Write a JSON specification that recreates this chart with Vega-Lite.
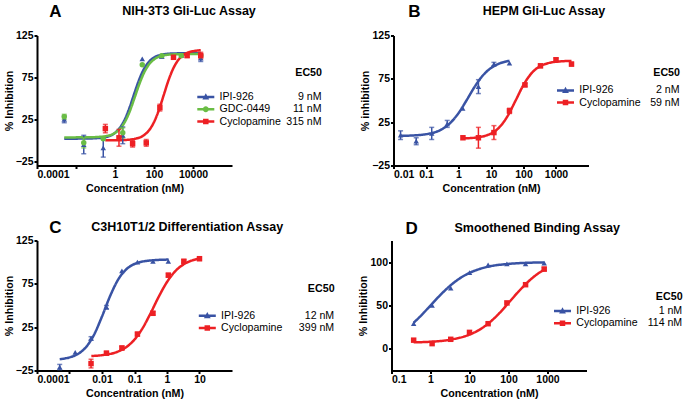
{
"$schema":"https://vega.github.io/schema/vega-lite/v6.json",
"background":"white",
"padding":{"left":3,"top":2.5,"right":0,"bottom":0},
"config":{
 "view":{"stroke":null},
 "axis":{"domainColor":"#000","domainWidth":2,"tickColor":"#000","tickWidth":2,"tickSize":3,"labelFont":"Liberation Sans","labelFontWeight":"bold","labelFontSize":10.5,"labelColor":"#000","titleFont":"Liberation Sans","titleFontWeight":"bold","titleFontSize":10.7,"titleColor":"#000","grid":false,"labelPadding":1},
 "axisX":{"titlePadding":3},
 "axisY":{"titlePadding":1},
 "legend":{"labelFont":"Liberation Sans","labelFontSize":10.6,"labelColor":"#000","titleFont":"Liberation Sans","titleFontSize":10.7,"titleFontWeight":"bold","titleColor":"#000","padding":0,"rowPadding":1.2,"orient":"none"},
 "title":{"font":"Liberation Sans","fontWeight":"bold","color":"#000","anchor":"start"}
},
"datasets":{
 "A_pts":[
  {"s":"IPI-926","c":0.0025,"v":25,"e":4},{"s":"IPI-926","c":0.025,"v":-5,"e":11},{"s":"IPI-926","c":0.25,"v":-9,"e":11},{"s":"IPI-926","c":2.5,"v":6,"e":10},{"s":"IPI-926","c":25,"v":97,"e":0},{"s":"IPI-926","c":250,"v":100,"e":2},{"s":"IPI-926","c":2500,"v":101,"e":0},{"s":"IPI-926","c":25000,"v":98,"e":4},
  {"s":"GDC-0449","c":0.0025,"v":28,"e":3},{"s":"GDC-0449","c":0.025,"v":-3,"e":6},{"s":"GDC-0449","c":0.25,"v":2,"e":0},{"s":"GDC-0449","c":2.5,"v":9,"e":6},{"s":"GDC-0449","c":25,"v":90,"e":0},{"s":"GDC-0449","c":250,"v":101,"e":0},{"s":"GDC-0449","c":2500,"v":101,"e":0},{"s":"GDC-0449","c":25000,"v":101,"e":0},
  {"s":"Cyclopamine","c":0.32,"v":14,"e":5},{"s":"Cyclopamine","c":1.6,"v":3,"e":10},{"s":"Cyclopamine","c":8,"v":-4,"e":4},{"s":"Cyclopamine","c":40,"v":-3,"e":4},{"s":"Cyclopamine","c":200,"v":39,"e":4},{"s":"Cyclopamine","c":1000,"v":99,"e":2},{"s":"Cyclopamine","c":5000,"v":101,"e":2},{"s":"Cyclopamine","c":25000,"v":101,"e":4}
 ],
 "A_fit":[
  {"s":"IPI-926","c":0.0025,"v":2.0},{"s":"IPI-926","c":0.0316,"v":2.1},{"s":"IPI-926","c":0.1,"v":2.5},{"s":"IPI-926","c":0.316,"v":3.8},{"s":"IPI-926","c":1,"v":8.9},{"s":"IPI-926","c":1.778,"v":14.9},{"s":"IPI-926","c":3.162,"v":24.8},{"s":"IPI-926","c":5.623,"v":39.2},{"s":"IPI-926","c":10,"v":56.5},{"s":"IPI-926","c":17.78,"v":73},{"s":"IPI-926","c":31.62,"v":85.7},{"s":"IPI-926","c":56.23,"v":93.9},{"s":"IPI-926","c":100,"v":98.7},{"s":"IPI-926","c":316.2,"v":102.6},{"s":"IPI-926","c":1000,"v":103.6},{"s":"IPI-926","c":25000,"v":104},
  {"s":"GDC-0449","c":0.0025,"v":3.5},{"s":"GDC-0449","c":0.0316,"v":3.6},{"s":"GDC-0449","c":0.1,"v":3.9},{"s":"GDC-0449","c":0.316,"v":4.9},{"s":"GDC-0449","c":1,"v":8.8},{"s":"GDC-0449","c":1.778,"v":13.6},{"s":"GDC-0449","c":3.162,"v":21.7},{"s":"GDC-0449","c":5.623,"v":34.2},{"s":"GDC-0449","c":10,"v":50.5},{"s":"GDC-0449","c":17.78,"v":67.2},{"s":"GDC-0449","c":31.62,"v":81.1},{"s":"GDC-0449","c":56.23,"v":90.7},{"s":"GDC-0449","c":100,"v":96.4},{"s":"GDC-0449","c":316.2,"v":101.3},{"s":"GDC-0449","c":1000,"v":102.5},{"s":"GDC-0449","c":25000,"v":103},
  {"s":"Cyclopamine","c":0.316,"v":0},{"s":"Cyclopamine","c":1,"v":0.1},{"s":"Cyclopamine","c":3.162,"v":0.4},{"s":"Cyclopamine","c":10,"v":1.7},{"s":"Cyclopamine","c":31.62,"v":6.4},{"s":"Cyclopamine","c":56.23,"v":12.1},{"s":"Cyclopamine","c":100,"v":21.7},{"s":"Cyclopamine","c":177.8,"v":36},{"s":"Cyclopamine","c":316.2,"v":54},{"s":"Cyclopamine","c":562.3,"v":72},{"s":"Cyclopamine","c":1000,"v":86.3},{"s":"Cyclopamine","c":1778,"v":95.9},{"s":"Cyclopamine","c":3162,"v":101.6},{"s":"Cyclopamine","c":5623,"v":104.7},{"s":"Cyclopamine","c":10000,"v":106.3},{"s":"Cyclopamine","c":25000,"v":107.4}
 ],
 "A_ec50":[{"s":"IPI-926","ec50":"9 nM"},{"s":"GDC-0449","ec50":"11 nM"},{"s":"Cyclopamine","ec50":"315 nM"}],
 "B_pts":[
  {"s":"IPI-926","c":0.0165,"v":10,"e":5},{"s":"IPI-926","c":0.05,"v":3,"e":4},{"s":"IPI-926","c":0.15,"v":12,"e":7},{"s":"IPI-926","c":0.45,"v":23,"e":4},{"s":"IPI-926","c":1.35,"v":41,"e":0},{"s":"IPI-926","c":4.1,"v":66,"e":8},{"s":"IPI-926","c":12.3,"v":92,"e":2},{"s":"IPI-926","c":37,"v":93,"e":0},
  {"s":"Cyclopamine","c":1.37,"v":7,"e":0},{"s":"Cyclopamine","c":4.1,"v":7,"e":12},{"s":"Cyclopamine","c":12.3,"v":13,"e":8},{"s":"Cyclopamine","c":37,"v":38,"e":3},{"s":"Cyclopamine","c":111,"v":68,"e":2},{"s":"Cyclopamine","c":333,"v":90,"e":2},{"s":"Cyclopamine","c":1000,"v":97,"e":2},{"s":"Cyclopamine","c":3000,"v":92,"e":2}
 ],
 "B_fit":[
  {"s":"IPI-926","c":0.0165,"v":9.2},{"s":"IPI-926","c":0.0316,"v":9.5},{"s":"IPI-926","c":0.1,"v":11.1},{"s":"IPI-926","c":0.316,"v":17.1},{"s":"IPI-926","c":0.562,"v":24.2},{"s":"IPI-926","c":1,"v":35.4},{"s":"IPI-926","c":1.778,"v":50.3},{"s":"IPI-926","c":3.162,"v":66},{"s":"IPI-926","c":5.623,"v":78.9},{"s":"IPI-926","c":10,"v":87.5},{"s":"IPI-926","c":17.78,"v":92.6},{"s":"IPI-926","c":37,"v":95.8},
  {"s":"Cyclopamine","c":1.37,"v":6.3},{"s":"Cyclopamine","c":3.162,"v":7.1},{"s":"Cyclopamine","c":10,"v":11.9},{"s":"Cyclopamine","c":17.78,"v":18.8},{"s":"Cyclopamine","c":31.62,"v":31.4},{"s":"Cyclopamine","c":56.23,"v":49.4},{"s":"Cyclopamine","c":100,"v":68},{"s":"Cyclopamine","c":177.8,"v":81.6},{"s":"Cyclopamine","c":316.2,"v":89.3},{"s":"Cyclopamine","c":562.3,"v":93},{"s":"Cyclopamine","c":1000,"v":94.7},{"s":"Cyclopamine","c":3000,"v":95.7}
 ],
 "B_ec50":[{"s":"IPI-926","ec50":"2 nM"},{"s":"Cyclopamine","ec50":"59 nM"}],
 "C_pts":[
  {"s":"IPI-926","c":0.0005,"v":-21,"e":3},{"s":"IPI-926","c":0.0015,"v":-4,"e":0},{"s":"IPI-926","c":0.0046,"v":12,"e":2},{"s":"IPI-926","c":0.0137,"v":48,"e":2},{"s":"IPI-926","c":0.041,"v":90,"e":0},{"s":"IPI-926","c":0.123,"v":100,"e":0},{"s":"IPI-926","c":0.37,"v":101,"e":0},{"s":"IPI-926","c":1.1,"v":101,"e":0},
  {"s":"Cyclopamine","c":0.0046,"v":-17,"e":5},{"s":"Cyclopamine","c":0.0137,"v":-5,"e":2},{"s":"Cyclopamine","c":0.041,"v":1,"e":2},{"s":"Cyclopamine","c":0.123,"v":17,"e":2},{"s":"Cyclopamine","c":0.37,"v":41,"e":2},{"s":"Cyclopamine","c":1.1,"v":85,"e":2},{"s":"Cyclopamine","c":3.3,"v":101,"e":2},{"s":"Cyclopamine","c":10,"v":104,"e":2}
 ],
 "C_fit":[
  {"s":"IPI-926","c":0.0005,"v":-11.9},{"s":"IPI-926","c":0.001,"v":-9.9},{"s":"IPI-926","c":0.00178,"v":-6.1},{"s":"IPI-926","c":0.00316,"v":1.6},{"s":"IPI-926","c":0.00562,"v":15.9},{"s":"IPI-926","c":0.01,"v":37.3},{"s":"IPI-926","c":0.0178,"v":61},{"s":"IPI-926","c":0.0316,"v":80.1},{"s":"IPI-926","c":0.0562,"v":91.8},{"s":"IPI-926","c":0.1,"v":97.9},{"s":"IPI-926","c":0.316,"v":102},{"s":"IPI-926","c":1.12,"v":103},
  {"s":"Cyclopamine","c":0.0047,"v":-8.3},{"s":"Cyclopamine","c":0.01,"v":-7.3},{"s":"Cyclopamine","c":0.0316,"v":-3},{"s":"Cyclopamine","c":0.0562,"v":2},{"s":"Cyclopamine","c":0.1,"v":10.7},{"s":"Cyclopamine","c":0.178,"v":23.9},{"s":"Cyclopamine","c":0.316,"v":41.4},{"s":"Cyclopamine","c":0.562,"v":60.4},{"s":"Cyclopamine","c":1,"v":77.1},{"s":"Cyclopamine","c":1.778,"v":89.4},{"s":"Cyclopamine","c":3.162,"v":97.2},{"s":"Cyclopamine","c":5.623,"v":101.7},{"s":"Cyclopamine","c":10,"v":104.2}
 ],
 "C_ec50":[{"s":"IPI-926","ec50":"12 nM"},{"s":"Cyclopamine","ec50":"399 nM"}],
 "D_pts":[
  {"s":"IPI-926","c":0.37,"v":29,"e":0},{"s":"IPI-926","c":1.1,"v":50,"e":0},{"s":"IPI-926","c":3.3,"v":70,"e":0},{"s":"IPI-926","c":10,"v":88,"e":0},{"s":"IPI-926","c":30,"v":97,"e":0},{"s":"IPI-926","c":91,"v":98,"e":0},{"s":"IPI-926","c":274,"v":98,"e":0},{"s":"IPI-926","c":823,"v":99,"e":0},
  {"s":"Cyclopamine","c":0.37,"v":10,"e":0},{"s":"Cyclopamine","c":1.1,"v":6,"e":0},{"s":"Cyclopamine","c":3.3,"v":11,"e":0},{"s":"Cyclopamine","c":10,"v":19,"e":0},{"s":"Cyclopamine","c":30,"v":29,"e":0},{"s":"Cyclopamine","c":91,"v":53,"e":0},{"s":"Cyclopamine","c":274,"v":74,"e":0},{"s":"Cyclopamine","c":823,"v":92,"e":2}
 ],
 "D_fit":[
  {"s":"IPI-926","c":0.37,"v":30.1},{"s":"IPI-926","c":0.562,"v":38},{"s":"IPI-926","c":1,"v":50},{"s":"IPI-926","c":1.778,"v":62},{"s":"IPI-926","c":3.162,"v":72.7},{"s":"IPI-926","c":5.623,"v":81.3},{"s":"IPI-926","c":10,"v":87.6},{"s":"IPI-926","c":17.78,"v":92},{"s":"IPI-926","c":31.62,"v":95},{"s":"IPI-926","c":100,"v":98},{"s":"IPI-926","c":316.2,"v":99.3},{"s":"IPI-926","c":823,"v":99.7},
  {"s":"Cyclopamine","c":0.37,"v":7.5},{"s":"Cyclopamine","c":1,"v":8.2},{"s":"Cyclopamine","c":3.162,"v":10.5},{"s":"Cyclopamine","c":10,"v":16.4},{"s":"Cyclopamine","c":17.78,"v":21.9},{"s":"Cyclopamine","c":31.62,"v":29.9},{"s":"Cyclopamine","c":56.23,"v":40.4},{"s":"Cyclopamine","c":100,"v":52.9},{"s":"Cyclopamine","c":177.8,"v":65.7},{"s":"Cyclopamine","c":316.2,"v":77.3},{"s":"Cyclopamine","c":562.3,"v":86.6},{"s":"Cyclopamine","c":823,"v":91.3}
 ],
 "D_ec50":[{"s":"IPI-926","ec50":"1 nM"},{"s":"Cyclopamine","ec50":"114 nM"}]
},
"spacing":25,
"resolve":{"scale":{"x":"independent","y":"independent","color":"independent","shape":"independent","stroke":"independent","strokeDash":"independent"},"legend":{"color":"independent","shape":"independent","strokeDash":"independent"}},
"vconcat":[
 {"hconcat":[
  {"title":{"text":"A","fontSize":17,"offset":-16,"dx":46},
   "vconcat":[{
    "width":195,"height":130,
    "title":{"text":"NIH-3T3 Gli-Luc Assay","fontSize":12.5,"dx":119,"offset":13},
    "layer":[
     {"data":{"name":"A_ec50"},"mark":{"type":"point","filled":true,"opacity":0,"size":100,"strokeWidth":0},
      "encoding":{"color":{"field":"s","type":"nominal","scale":{"domain":["IPI-926","GDC-0449","Cyclopamine"],"range":["#3953a4","#6abd45","#ed2024"]},
        "legend":{"title":null,"legendX":167,"legendY":56.3,"symbolSize":100,"symbolStrokeWidth":0,"symbolOpacity":1,"labelOffset":5}},
       "shape":{"field":"s","type":"nominal","scale":{"domain":["IPI-926","GDC-0449","Cyclopamine"],"range":["M-2.4,-0.25H1V0.25H-2.4Z M-0.7,-0.75L-0.02,0.5H-1.38Z","M-2.4,-0.25H1V0.25H-2.4Z M-1.3,0A0.6,0.6,0,1,1,-0.1,0A0.6,0.6,0,1,1,-1.3,0Z","M-2.4,-0.25H1V0.25H-2.4Z M-1.25,-0.55H-0.15V0.55H-1.25Z"]},
        "legend":{"title":null,"legendX":167,"legendY":56.3,"symbolSize":100,"symbolStrokeWidth":0,"symbolOpacity":1,"labelOffset":5}}}},
     {"data":{"name":"A_fit"},"transform":[{"lookup":"s","from":{"data":{"name":"A_ec50"},"key":"s","fields":["ec50"]}}],
      "mark":{"type":"line","interpolate":"monotone","strokeWidth":2.5},
      "encoding":{
       "x":{"field":"c","type":"quantitative","title":"Concentration (nM)","scale":{"type":"log","domain":[0.0001,1000000],"nice":false},"axis":{"values":[0.0001,0.01,1,100,10000],"format":"~g"}},
       "y":{"field":"v","type":"quantitative","title":"% Inhibition","scale":{"domain":[-30,125],"nice":false,"zero":false},"axis":{"values":[-25,0,25,50,75,100,125]}},
       "stroke":{"field":"s","type":"nominal","scale":{"domain":["IPI-926","GDC-0449","Cyclopamine"],"range":["#3953a4","#6abd45","#ed2024"]},"legend":null},
       "strokeDash":{"field":"ec50","type":"nominal","scale":{"domain":["9 nM","11 nM","315 nM"],"range":[[1,0],[1,0],[1,0]]},
        "legend":{"title":"EC50","titleAnchor":"end","titleAlign":"right","labelAlign":"right","symbolOpacity":0,"symbolSize":0,"symbolStrokeWidth":0,"labelOffset":0,"legendX":258,"legendY":32.3,"titlePadding":13.3}}
      }},
     {"data":{"name":"A_pts"},"transform":[{"filter":"datum.e > 0 && datum.s === 'IPI-926'"}],"mark":{"type":"errorbar","color":"#3953a4","ticks":{"color":"#3953a4"},"rule":{"color":"#3953a4"},"size":5,"thickness":1.5},
      "encoding":{"x":{"field":"c","type":"quantitative","title":"Concentration (nM)"},"y":{"field":"v","type":"quantitative","title":"% Inhibition"},"yError":{"field":"e"}}},
     {"data":{"name":"A_pts"},"transform":[{"filter":"datum.e > 0 && datum.s === 'GDC-0449'"}],"mark":{"type":"errorbar","color":"#6abd45","ticks":{"color":"#6abd45"},"rule":{"color":"#6abd45"},"size":5,"thickness":1.5},
      "encoding":{"x":{"field":"c","type":"quantitative","title":"Concentration (nM)"},"y":{"field":"v","type":"quantitative","title":"% Inhibition"},"yError":{"field":"e"}}},
     {"data":{"name":"A_pts"},"transform":[{"filter":"datum.e > 0 && datum.s === 'Cyclopamine'"}],"mark":{"type":"errorbar","color":"#ed2024","ticks":{"color":"#ed2024"},"rule":{"color":"#ed2024"},"size":5,"thickness":1.5},
      "encoding":{"x":{"field":"c","type":"quantitative","title":"Concentration (nM)"},"y":{"field":"v","type":"quantitative","title":"% Inhibition"},"yError":{"field":"e"}}},
     {"data":{"name":"A_pts"},"transform":[{"filter":"datum.s === 'IPI-926'"}],"mark":{"type":"point","shape":"triangle-up","filled":true,"size":30,"opacity":1,"color":"#3953a4"},
      "encoding":{"x":{"field":"c","type":"quantitative","title":"Concentration (nM)"},"y":{"field":"v","type":"quantitative","title":"% Inhibition"}}},
     {"data":{"name":"A_pts"},"transform":[{"filter":"datum.s === 'GDC-0449'"}],"mark":{"type":"point","shape":"circle","filled":true,"size":30,"opacity":1,"color":"#6abd45"},
      "encoding":{"x":{"field":"c","type":"quantitative","title":"Concentration (nM)"},"y":{"field":"v","type":"quantitative","title":"% Inhibition"}}},
     {"data":{"name":"A_pts"},"transform":[{"filter":"datum.s === 'Cyclopamine'"}],"mark":{"type":"point","shape":"square","filled":true,"size":30,"opacity":1,"color":"#ed2024"},
      "encoding":{"x":{"field":"c","type":"quantitative","title":"Concentration (nM)"},"y":{"field":"v","type":"quantitative","title":"% Inhibition"}}}
    ]
   }]
  },
  {"title":{"text":"B","fontSize":17,"offset":-16,"dx":48.5},
   "vconcat":[{
    "width":195,"height":130,
    "title":{"text":"HEPM Gli-Luc Assay","fontSize":12.5,"dx":123,"offset":13},
    "layer":[
     {"data":{"name":"B_ec50"},"mark":{"type":"point","filled":true,"opacity":0,"size":100,"strokeWidth":0},
      "encoding":{"color":{"field":"s","type":"nominal","scale":{"domain":["IPI-926","Cyclopamine"],"range":["#3953a4","#ed2024"]},
        "legend":{"title":null,"legendX":170.2,"legendY":49.6,"symbolSize":100,"symbolStrokeWidth":0,"symbolOpacity":1,"labelOffset":5}},
       "shape":{"field":"s","type":"nominal","scale":{"domain":["IPI-926","Cyclopamine"],"range":["M-2.4,-0.25H1V0.25H-2.4Z M-0.7,-0.75L-0.02,0.5H-1.38Z","M-2.4,-0.25H1V0.25H-2.4Z M-1.25,-0.55H-0.15V0.55H-1.25Z"]},
        "legend":{"title":null,"legendX":170.2,"legendY":49.6,"symbolSize":100,"symbolStrokeWidth":0,"symbolOpacity":1,"labelOffset":5}}}},
     {"data":{"name":"B_fit"},"transform":[{"lookup":"s","from":{"data":{"name":"B_ec50"},"key":"s","fields":["ec50"]}}],
      "mark":{"type":"line","interpolate":"monotone","strokeWidth":2.5},
      "encoding":{
       "x":{"field":"c","type":"quantitative","title":"Concentration (nM)","scale":{"type":"log","domain":[0.01,10000],"nice":false},"axis":{"values":[0.01,0.1,1,10,100,1000],"format":"~g"}},
       "y":{"field":"v","type":"quantitative","title":"% inhibition","scale":{"domain":[-25,125],"nice":false,"zero":false},"axis":{"values":[-25,0,25,50,75,100,125]}},
       "stroke":{"field":"s","type":"nominal","scale":{"domain":["IPI-926","Cyclopamine"],"range":["#3953a4","#ed2024"]},"legend":null},
       "strokeDash":{"field":"ec50","type":"nominal","scale":{"domain":["2 nM","59 nM"],"range":[[1,0],[1,0]]},
        "legend":{"title":"EC50","titleAnchor":"end","titleAlign":"right","labelAlign":"right","symbolOpacity":0,"symbolSize":0,"symbolStrokeWidth":0,"labelOffset":0,"legendX":259.5,"legendY":32.3,"titlePadding":6.6}}
      }},
     {"data":{"name":"B_pts"},"transform":[{"filter":"datum.e > 0 && datum.s === 'IPI-926'"}],"mark":{"type":"errorbar","color":"#3953a4","ticks":{"color":"#3953a4"},"rule":{"color":"#3953a4"},"size":5,"thickness":1.5},
      "encoding":{"x":{"field":"c","type":"quantitative","title":"Concentration (nM)"},"y":{"field":"v","type":"quantitative","title":"% inhibition"},"yError":{"field":"e"}}},
     {"data":{"name":"B_pts"},"transform":[{"filter":"datum.e > 0 && datum.s === 'Cyclopamine'"}],"mark":{"type":"errorbar","color":"#ed2024","ticks":{"color":"#ed2024"},"rule":{"color":"#ed2024"},"size":5,"thickness":1.5},
      "encoding":{"x":{"field":"c","type":"quantitative","title":"Concentration (nM)"},"y":{"field":"v","type":"quantitative","title":"% inhibition"},"yError":{"field":"e"}}},
     {"data":{"name":"B_pts"},"transform":[{"filter":"datum.s === 'IPI-926'"}],"mark":{"type":"point","shape":"triangle-up","filled":true,"size":30,"opacity":1,"color":"#3953a4"},
      "encoding":{"x":{"field":"c","type":"quantitative","title":"Concentration (nM)"},"y":{"field":"v","type":"quantitative","title":"% inhibition"}}},
     {"data":{"name":"B_pts"},"transform":[{"filter":"datum.s === 'Cyclopamine'"}],"mark":{"type":"point","shape":"square","filled":true,"size":30,"opacity":1,"color":"#ed2024"},
      "encoding":{"x":{"field":"c","type":"quantitative","title":"Concentration (nM)"},"y":{"field":"v","type":"quantitative","title":"% inhibition"}}}
    ]
   }]
  }
 ],"spacing":37.5,
 "resolve":{"scale":{"x":"independent","y":"independent","color":"independent","shape":"independent","stroke":"independent","strokeDash":"independent"},"legend":{"color":"independent","shape":"independent","strokeDash":"independent"}}},
 {"hconcat":[
  {"title":{"text":"C","fontSize":17,"offset":-16,"dx":46},
   "vconcat":[{
    "width":195,"height":130,
    "title":{"text":"C3H10T1/2 Differentiation Assay","fontSize":12.5,"dx":88,"offset":2.3},
    "layer":[
     {"data":{"name":"C_ec50"},"mark":{"type":"point","filled":true,"opacity":0,"size":100,"strokeWidth":0},
      "encoding":{"color":{"field":"s","type":"nominal","scale":{"domain":["IPI-926","Cyclopamine"],"range":["#3953a4","#ed2024"]},
        "legend":{"title":null,"legendX":168.5,"legendY":70,"symbolSize":100,"symbolStrokeWidth":0,"symbolOpacity":1,"labelOffset":5}},
       "shape":{"field":"s","type":"nominal","scale":{"domain":["IPI-926","Cyclopamine"],"range":["M-2.4,-0.25H1V0.25H-2.4Z M-0.7,-0.75L-0.02,0.5H-1.38Z","M-2.4,-0.25H1V0.25H-2.4Z M-1.25,-0.55H-0.15V0.55H-1.25Z"]},
        "legend":{"title":null,"legendX":168.5,"legendY":70,"symbolSize":100,"symbolStrokeWidth":0,"symbolOpacity":1,"labelOffset":5}}}},
     {"data":{"name":"C_fit"},"transform":[{"lookup":"s","from":{"data":{"name":"C_ec50"},"key":"s","fields":["ec50"]}}],
      "mark":{"type":"line","interpolate":"monotone","strokeWidth":2.5},
      "encoding":{
       "x":{"field":"c","type":"quantitative","title":"Concentration (nM)","scale":{"type":"log","domain":[0.0001,100],"nice":false},"axis":{"values":[0.0001,0.001,0.01,0.1,1,10],"format":"~g"}},
       "y":{"field":"v","type":"quantitative","title":"% Inhibition","scale":{"domain":[-25,125],"nice":false,"zero":false},"axis":{"values":[-25,0,25,50,75,100,125]}},
       "stroke":{"field":"s","type":"nominal","scale":{"domain":["IPI-926","Cyclopamine"],"range":["#3953a4","#ed2024"]},"legend":null},
       "strokeDash":{"field":"ec50","type":"nominal","scale":{"domain":["12 nM","399 nM"],"range":[[1,0],[1,0]]},
        "legend":{"title":"EC50","titleAnchor":"end","titleAlign":"right","labelAlign":"right","symbolOpacity":0,"symbolSize":0,"symbolStrokeWidth":0,"labelOffset":0,"legendX":270.6,"legendY":43.7,"titlePadding":15.6}}
      }},
     {"data":{"name":"C_pts"},"transform":[{"filter":"datum.e > 0 && datum.s === 'IPI-926'"}],"mark":{"type":"errorbar","color":"#3953a4","ticks":{"color":"#3953a4"},"rule":{"color":"#3953a4"},"size":5,"thickness":1.5},
      "encoding":{"x":{"field":"c","type":"quantitative","title":"Concentration (nM)"},"y":{"field":"v","type":"quantitative","title":"% Inhibition"},"yError":{"field":"e"}}},
     {"data":{"name":"C_pts"},"transform":[{"filter":"datum.e > 0 && datum.s === 'Cyclopamine'"}],"mark":{"type":"errorbar","color":"#ed2024","ticks":{"color":"#ed2024"},"rule":{"color":"#ed2024"},"size":5,"thickness":1.5},
      "encoding":{"x":{"field":"c","type":"quantitative","title":"Concentration (nM)"},"y":{"field":"v","type":"quantitative","title":"% Inhibition"},"yError":{"field":"e"}}},
     {"data":{"name":"C_pts"},"transform":[{"filter":"datum.s === 'IPI-926'"}],"mark":{"type":"point","shape":"triangle-up","filled":true,"size":30,"opacity":1,"color":"#3953a4"},
      "encoding":{"x":{"field":"c","type":"quantitative","title":"Concentration (nM)"},"y":{"field":"v","type":"quantitative","title":"% Inhibition"}}},
     {"data":{"name":"C_pts"},"transform":[{"filter":"datum.s === 'Cyclopamine'"}],"mark":{"type":"point","shape":"square","filled":true,"size":30,"opacity":1,"color":"#ed2024"},
      "encoding":{"x":{"field":"c","type":"quantitative","title":"Concentration (nM)"},"y":{"field":"v","type":"quantitative","title":"% Inhibition"}}}
    ]
   }]
  },
  {"title":{"text":"D","fontSize":17,"offset":-16,"dx":47.5},
   "vconcat":[{
    "width":195,"height":130,
    "title":{"text":"Smoothened Binding Assay","fontSize":12.5,"dx":96.5,"offset":6.3},
    "layer":[
     {"data":{"name":"D_ec50"},"mark":{"type":"point","filled":true,"opacity":0,"size":100,"strokeWidth":0},
      "encoding":{"color":{"field":"s","type":"nominal","scale":{"domain":["IPI-926","Cyclopamine"],"range":["#3953a4","#ed2024"]},
        "legend":{"title":null,"legendX":169.2,"legendY":65.3,"symbolSize":100,"symbolStrokeWidth":0,"symbolOpacity":1,"labelOffset":5}},
       "shape":{"field":"s","type":"nominal","scale":{"domain":["IPI-926","Cyclopamine"],"range":["M-2.4,-0.25H1V0.25H-2.4Z M-0.7,-0.75L-0.02,0.5H-1.38Z","M-2.4,-0.25H1V0.25H-2.4Z M-1.25,-0.55H-0.15V0.55H-1.25Z"]},
        "legend":{"title":null,"legendX":169.2,"legendY":65.3,"symbolSize":100,"symbolStrokeWidth":0,"symbolOpacity":1,"labelOffset":5}}}},
     {"data":{"name":"D_fit"},"transform":[{"lookup":"s","from":{"data":{"name":"D_ec50"},"key":"s","fields":["ec50"]}}],
      "mark":{"type":"line","interpolate":"monotone","strokeWidth":2.5},
      "encoding":{
       "x":{"field":"c","type":"quantitative","title":"Concentration (nM)","scale":{"type":"log","domain":[0.1,10000],"nice":false},"axis":{"values":[0.1,1,10,100,1000],"format":"~g"}},
       "y":{"field":"v","type":"quantitative","title":"% Inhibition","scale":{"domain":[-25,125],"nice":false,"zero":false},"axis":{"values":[0,25,50,75,100,125]}},
       "stroke":{"field":"s","type":"nominal","scale":{"domain":["IPI-926","Cyclopamine"],"range":["#3953a4","#ed2024"]},"legend":null},
       "strokeDash":{"field":"ec50","type":"nominal","scale":{"domain":["1 nM","114 nM"],"range":[[1,0],[1,0]]},
        "legend":{"title":"EC50","titleAnchor":"end","titleAlign":"right","labelAlign":"right","symbolOpacity":0,"symbolSize":0,"symbolStrokeWidth":0,"labelOffset":0,"legendX":264.1,"legendY":51.3,"titlePadding":3.3}}
      }},
     {"data":{"name":"D_pts"},"transform":[{"filter":"datum.e > 0 && datum.s === 'Cyclopamine'"}],"mark":{"type":"errorbar","color":"#ed2024","ticks":{"color":"#ed2024"},"rule":{"color":"#ed2024"},"size":5,"thickness":1.5},
      "encoding":{"x":{"field":"c","type":"quantitative","title":"Concentration (nM)"},"y":{"field":"v","type":"quantitative","title":"% Inhibition"},"yError":{"field":"e"}}},
     {"data":{"name":"D_pts"},"transform":[{"filter":"datum.s === 'IPI-926'"}],"mark":{"type":"point","shape":"triangle-up","filled":true,"size":30,"opacity":1,"color":"#3953a4"},
      "encoding":{"x":{"field":"c","type":"quantitative","title":"Concentration (nM)"},"y":{"field":"v","type":"quantitative","title":"% Inhibition"}}},
     {"data":{"name":"D_pts"},"transform":[{"filter":"datum.s === 'Cyclopamine'"}],"mark":{"type":"point","shape":"square","filled":true,"size":30,"opacity":1,"color":"#ed2024"},
      "encoding":{"x":{"field":"c","type":"quantitative","title":"Concentration (nM)"},"y":{"field":"v","type":"quantitative","title":"% Inhibition"}}}
    ]
   }]
  }
 ],"spacing":22.5,
 "resolve":{"scale":{"x":"independent","y":"independent","color":"independent","shape":"independent","stroke":"independent","strokeDash":"independent"},"legend":{"color":"independent","shape":"independent","strokeDash":"independent"}}}
]
}
